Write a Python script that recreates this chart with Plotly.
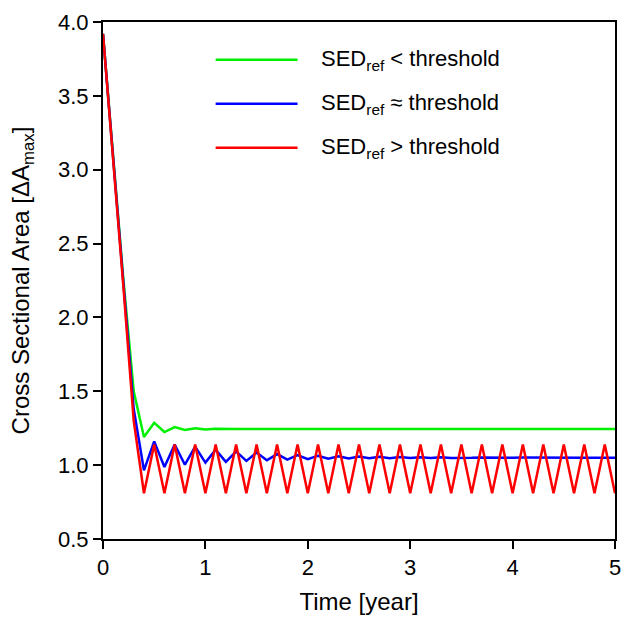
import plotly.graph_objects as go

time_years = [0.0, 0.1, 0.2, 0.3, 0.4, 0.5, 0.6, 0.7, 0.8, 0.9,
              1.0, 1.1, 1.2, 1.3, 1.4, 1.5, 1.6, 1.7, 1.8, 1.9,
              2.0, 2.1, 2.2, 2.3, 2.4, 2.5, 2.6, 2.7, 2.8, 2.9,
              3.0, 3.1, 3.2, 3.3, 3.4, 3.5, 3.6, 3.7, 3.8, 3.9,
              4.0, 4.1, 4.2, 4.3, 4.4, 4.5, 4.6, 4.7, 4.8, 4.9, 5.0]

sed_below = [3.92, 3.09, 2.25, 1.50, 1.19, 1.287, 1.224, 1.258, 1.238, 1.249,
             1.242, 1.246, 1.243, 1.245, 1.244, 1.244, 1.244, 1.244, 1.244, 1.244,
             1.244, 1.244, 1.244, 1.244, 1.244, 1.244, 1.244, 1.244, 1.244, 1.244,
             1.244, 1.244, 1.244, 1.244, 1.244, 1.244, 1.244, 1.244, 1.244, 1.244,
             1.244, 1.244, 1.244, 1.244, 1.244, 1.244, 1.244, 1.244, 1.244, 1.244, 1.244]

sed_near = [3.92, 3.08, 2.22, 1.38, 0.965, 1.161, 0.988, 1.139, 1.003, 1.125,
            1.017, 1.105, 1.022, 1.093, 1.029, 1.085, 1.033, 1.075, 1.037, 1.068,
            1.040, 1.064, 1.043, 1.060, 1.045, 1.058, 1.046, 1.056, 1.047, 1.055,
            1.048, 1.054, 1.049, 1.053, 1.049, 1.052, 1.050, 1.052, 1.050, 1.051,
            1.050, 1.051, 1.050, 1.051, 1.050, 1.051, 1.050, 1.050, 1.050, 1.050, 1.050]

sed_above = [3.92, 3.08, 2.20, 1.30, 0.81, 1.14, 0.81, 1.14, 0.81, 1.14,
             0.81, 1.14, 0.81, 1.14, 0.81, 1.14, 0.81, 1.14, 0.81, 1.14,
             0.81, 1.14, 0.81, 1.14, 0.81, 1.14, 0.81, 1.14, 0.81, 1.14,
             0.81, 1.14, 0.81, 1.14, 0.81, 1.14, 0.81, 1.14, 0.81, 1.14,
             0.81, 1.14, 0.81, 1.14, 0.81, 1.14, 0.81, 1.14, 0.81, 1.14, 0.81]

series_names = ["SED<sub>ref</sub> < threshold",
                "SED<sub>ref</sub> ≈ threshold",
                "SED<sub>ref</sub> > threshold"]
series_colors = ["#00f000", "#0000ff", "#ff0000"]
series_values = [sed_below, sed_near, sed_above]

x_ticks = [0, 1, 2, 3, 4, 5]
y_ticks = [0.5, 1.0, 1.5, 2.0, 2.5, 3.0, 3.5, 4.0]

FONT = "Liberation Sans, Arial, sans-serif"

fig = go.Figure()
for name, color, vals in zip(series_names, series_colors, series_values):
    fig.add_trace(go.Scatter(x=time_years, y=vals, mode="lines", name=name,
                             line=dict(color=color, width=2.5), showlegend=False))

# Manual legend (long line samples like the original)
legend_y = [0.927, 0.842, 0.757]
for name, color, ly in zip(series_names, series_colors, legend_y):
    fig.add_shape(type="line", xref="paper", yref="paper",
                  x0=0.220, x1=0.380, y0=ly, y1=ly,
                  line=dict(color=color, width=2.5))
    fig.add_annotation(xref="paper", yref="paper", x=0.421, y=ly,
                       xanchor="left", yanchor="middle", showarrow=False,
                       text=name, font=dict(family=FONT, size=22, color="black"))

axis_common = dict(showline=True, linecolor="black", linewidth=2, mirror=True,
                   ticks="outside", ticklen=8, tickwidth=2, tickcolor="black",
                   showgrid=False, zeroline=False,
                   tickfont=dict(family=FONT, size=22, color="black"))

fig.update_xaxes(range=[0, 5], tickvals=x_ticks,
                 title=dict(text="Time [year]", font=dict(family=FONT, size=24, color="black"), standoff=14),
                 **axis_common)
fig.update_yaxes(range=[0.5, 4.0], tickvals=y_ticks, tickformat=".1f",
                 title=dict(text="Cross Sectional Area [ΔA<sub>max</sub>]", font=dict(family=FONT, size=24, color="black"), standoff=22),
                 **axis_common)

fig.update_layout(width=627, height=617,
                  margin=dict(l=103, r=6, t=22, b=77),
                  paper_bgcolor="white", plot_bgcolor="white",
                  font=dict(family=FONT, color="black"))

fig.write_html("out.html")
